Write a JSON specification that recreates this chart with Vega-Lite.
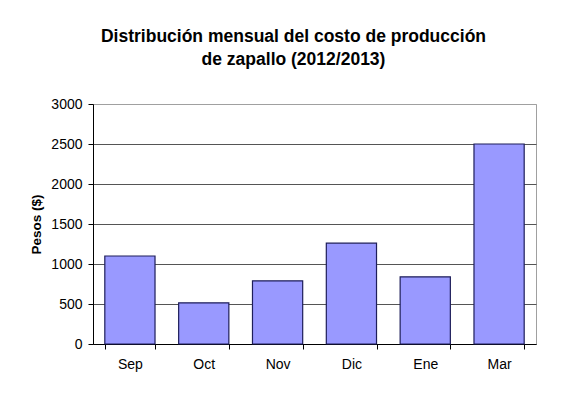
{
  "$schema": "https://vega.github.io/schema/vega-lite/v6.json",
  "width": 443,
  "height": 240,
  "autosize": "none",
  "padding": {"left": 93, "top": 104, "right": 32, "bottom": 49},
  "background": "white",
  "title": {
    "text": ["Distribución mensual del costo de producción", "de zapallo (2012/2013)"],
    "font": "Liberation Sans",
    "fontSize": 17.5,
    "fontWeight": "bold",
    "color": "black",
    "lineHeight": 23,
    "anchor": "middle",
    "dx": -21,
    "baseline": "bottom",
    "offset": 11
  },
  "data": {
    "values": [
      {"mes": "Sep", "pesos": 1100},
      {"mes": "Oct", "pesos": 515},
      {"mes": "Nov", "pesos": 790},
      {"mes": "Dic", "pesos": 1260},
      {"mes": "Ene", "pesos": 840},
      {"mes": "Mar", "pesos": 2500}
    ]
  },
  "mark": {"type": "bar", "fill": "#9999ff", "stroke": "#1e1e5a", "strokeWidth": 1.2},
  "encoding": {
    "x": {
      "field": "mes",
      "type": "nominal",
      "sort": null,
      "scale": {"paddingInner": 0.32, "paddingOuter": 0.16},
      "axis": {
        "title": null,
        "labelAngle": 0,
        "tickBand": "extent",
        "domainColor": "black",
        "tickColor": "black",
        "tickSize": 5,
        "labelFont": "Liberation Sans",
        "labelFontSize": 14,
        "labelColor": "black",
        "labelPadding": 8,
        "grid": false
      }
    },
    "y": {
      "field": "pesos",
      "type": "quantitative",
      "scale": {"domain": [0, 3000], "nice": false},
      "axis": {
        "values": [0, 500, 1000, 1500, 2000, 2500, 3000],
        "format": "d",
        "title": "Pesos ($)",
        "titleFont": "Liberation Sans",
        "titleFontSize": 13.5,
        "titleFontWeight": "bold",
        "titleColor": "black",
        "titlePadding": 7,
        "labelFont": "Liberation Sans",
        "labelFontSize": 14,
        "labelColor": "black",
        "labelPadding": 6,
        "domainColor": "black",
        "tickColor": "black",
        "tickSize": 5,
        "grid": true,
        "gridColor": {"condition": {"test": "datum.value === 3000", "value": "#a0a0a0"}, "value": "#555555"},
        "gridOpacity": 1
      }
    }
  },
  "config": {
    "view": {"stroke": "#a0a0a0", "strokeWidth": 1}
  }
}
